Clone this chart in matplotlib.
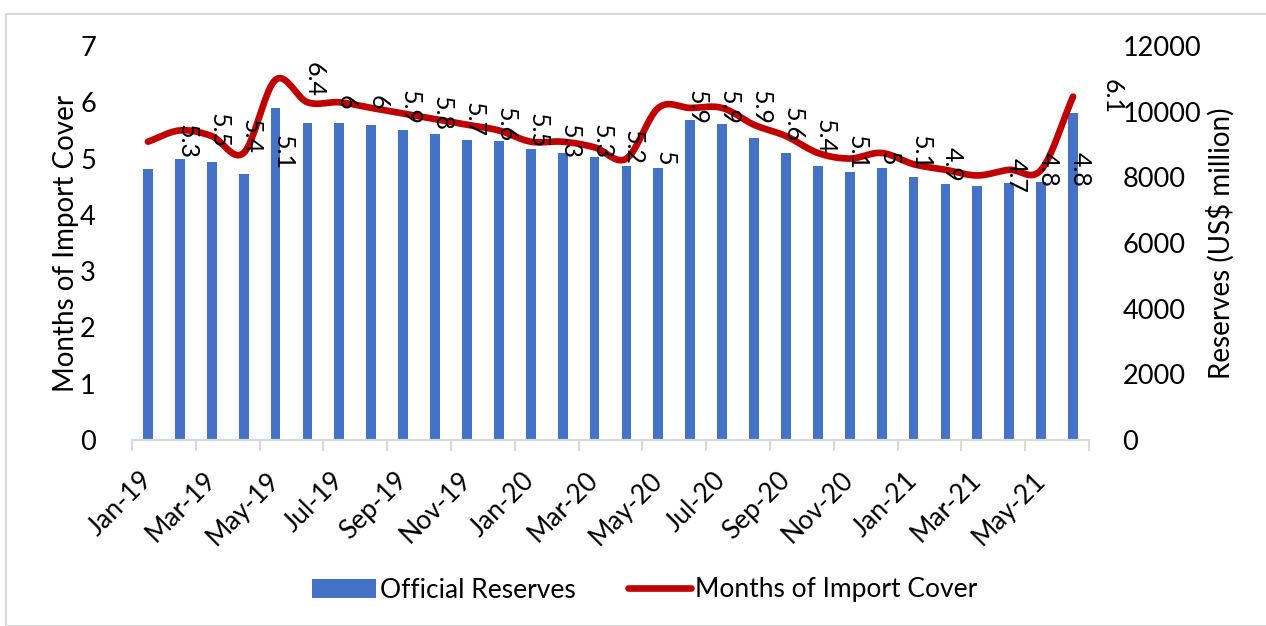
import numpy as np
import matplotlib
matplotlib.use("Agg")
import matplotlib.pyplot as plt
from matplotlib.patches import Rectangle, Patch
from matplotlib.lines import Line2D

plt.rcParams['font.family'] = ['Lato', 'DejaVu Sans']

# months Jan-19 .. Jun-21
months = ['Jan-19', 'Feb-19', 'Mar-19', 'Apr-19', 'May-19', 'Jun-19', 'Jul-19', 'Aug-19',
          'Sep-19', 'Oct-19', 'Nov-19', 'Dec-19', 'Jan-20', 'Feb-20', 'Mar-20', 'Apr-20',
          'May-20', 'Jun-20', 'Jul-20', 'Aug-20', 'Sep-20', 'Oct-20', 'Nov-20', 'Dec-20',
          'Jan-21', 'Feb-21', 'Mar-21', 'Apr-21', 'May-21', 'Jun-21']

# official reserves, US$ million (right axis)
reserves = [8250, 8560, 8460, 8090, 10100, 9655, 9655, 9585, 9445, 9330, 9150, 9100,
            8875, 8755, 8630, 8360, 8285, 9750, 9635, 9190, 8755, 8360, 8165, 8295,
            8020, 7800, 7740, 7840, 7870, 9970]

# months of import cover (left axis)
cover = [5.3, 5.5, 5.4, 5.1, 6.4, 6.0, 6.0, 5.9, 5.8, 5.7, 5.6, 5.5,
         5.3, 5.3, 5.2, 5.0, 5.9, 5.9, 5.9, 5.6, 5.4, 5.1, 5.0, 5.1,
         4.9, 4.8, 4.7, 4.8, 4.8, 6.1]

# labels that are not shown in the original
hidden_labels = [25]

W, H = 1266, 626
fig = plt.figure(figsize=(W / 100, H / 100), dpi=100)
fig.patches.append(Rectangle((6 / W, 0), 1.0, 1 - 14 / H, transform=fig.transFigure,
                             fill=False, edgecolor='#d9d9d9', linewidth=1.5))

ax = fig.add_axes([132 / W, 1 - 440 / H, (1089 - 132) / W, (440 - 46) / H])
ax2 = ax.twinx()

x = np.arange(len(months))

# bars on the secondary (right) axis
ax2.bar(x, reserves, width=0.31, color='#4472C4', zorder=2)
ax2.set_ylim(0, 12000)
ax2.set_yticks(np.arange(0, 12001, 2000))

# smoothed line, catmull-rom through the monthly points
def smooth(xs, ys, n=20):
    xs = np.asarray(xs, float)
    ys = np.asarray(ys, float)
    px = np.concatenate([[2 * xs[0] - xs[1]], xs, [2 * xs[-1] - xs[-2]]])
    py = np.concatenate([[2 * ys[0] - ys[1]], ys, [2 * ys[-1] - ys[-2]]])
    outx, outy = [], []
    t = np.linspace(0, 1, n, endpoint=False)
    for i in range(1, len(px) - 2):
        for p, out in ((px, outx), (py, outy)):
            p0, p1, p2, p3 = p[i - 1], p[i], p[i + 1], p[i + 2]
            out.extend(0.5 * ((2 * p1) + (-p0 + p2) * t + (2 * p0 - 5 * p1 + 4 * p2 - p3) * t ** 2
                              + (-p0 + 3 * p1 - 3 * p2 + p3) * t ** 3))
    outx.append(xs[-1])
    outy.append(ys[-1])
    return np.array(outx), np.array(outy)

sx, sy = smooth(x, cover)
ax.plot(sx, sy, color='#C00000', linewidth=4.8, solid_capstyle='round', zorder=3)
ax.set_ylim(0, 7)
ax.set_yticks(range(0, 8))
ax.set_xlim(-0.5, len(months) - 0.5)

# data labels (rotated, to the right of each point)
for i, v in enumerate(cover):
    if i in hidden_labels:
        continue
    ax.annotate(f'{v:g}', (x[i], v), xytext=(39, 0), textcoords='offset pixels',
                rotation=270, ha='center', va='center', fontsize=18, color='black',
                zorder=4, annotation_clip=False)

ax.set_zorder(ax2.get_zorder() + 1)
ax.patch.set_visible(False)

# x axis
ax.set_xticks(x[::2])
ax.set_xticklabels(months[::2], rotation=45, ha='right', va='center',
                   rotation_mode='anchor', fontsize=19)
ax.set_xticks(np.arange(-0.5, len(months), 2), minor=True)
ax.tick_params(axis='x', which='major', length=0, pad=26)
ax.tick_params(axis='x', which='minor', length=8, color='#d9d9d9', width=1.5)
ax.tick_params(axis='y', length=0, labelsize=19.5, pad=26)
ax2.tick_params(axis='y', length=0, labelsize=19.5, pad=24)

for a in (ax, ax2):
    for s in ('top', 'left', 'right'):
        a.spines[s].set_visible(False)
    a.spines['bottom'].set_color('#d9d9d9')
    a.spines['bottom'].set_linewidth(1.5)

ax.set_ylabel('Months of Import Cover', fontsize=20, labelpad=1)
ax2.set_ylabel('Reserves (US$ million)', fontsize=20, labelpad=4)

handles = [Patch(facecolor='#4472C4', edgecolor='none'),
           Line2D([0], [0], color='#C00000', linewidth=4.8, solid_capstyle='round')]
fig.legend(handles, ['Official Reserves', 'Months of Import Cover'],
           loc='center', bbox_to_anchor=(645 / W, 1 - 590 / H), ncol=2, frameon=False,
           fontsize=19, handlelength=2.4, handletextpad=0.15, columnspacing=2.0)

fig.savefig('out.png', dpi=100)
